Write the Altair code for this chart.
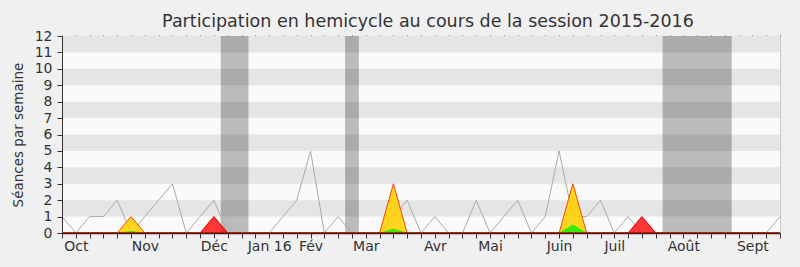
import altair as alt
import pandas as pd

# Weekly attendance, session 2015-2016 (week index 0..52)
weeks = list(range(53))
seances = [1, 0, 1, 1, 2, 0, 1, 2, 3, 0,
           1, 2, 0, 0, 0, 0, 1, 2, 5, 0,
           1, 0, 0, 0, 1, 2, 0, 1, 0, 0,
           2, 0, 1, 2, 0, 1, 5, 1, 1, 2,
           0, 1, 0, 0, 0, 0, 0, 0, 0, 0,
           0, 0, 1]
presences = [0, 0, 0, 0, 0, 1, 0, 0, 0, 0,
             0, 0, 0, 0, 0, 0, 0, 0, 0, 0,
             0, 0, 0, 0, 3, 0, 0, 0, 0, 0,
             0, 0, 0, 0, 0, 0, 0, 3, 0, 0,
             0, 0, 0, 0, 0, 0, 0, 0, 0, 0,
             0, 0, 0]
interventions = [0, 0, 0, 0, 0, 0.1, 0, 0, 0, 0,
                 0, 0, 0, 0, 0, 0, 0, 0, 0, 0,
                 0, 0, 0, 0, 0.25, 0, 0, 0, 0, 0,
                 0, 0, 0, 0, 0, 0, 0, 0.5, 0, 0,
                 0, 0, 0, 0, 0, 0, 0, 0, 0, 0,
                 0, 0, 0]
absences = [0, 0, 0, 0, 0, 0, 0, 0, 0, 0,
            0, 1, 0, 0, 0, 0, 0, 0, 0, 0,
            0, 0, 0, 0, 0, 0, 0, 0, 0, 0,
            0, 0, 0, 0, 0, 0, 0, 0, 0, 0,
            0, 0, 1, 0, 0, 0, 0, 0, 0, 0,
            0, 0, 0]

# Parliamentary recess (first and last week of each break)
vac_first = [12, 21, 44]
vac_last = [13, 21, 48]

# Month labels and the week they sit on
month_weeks = [1, 6, 11, 15, 18, 22, 27, 31, 36, 40, 45, 50]
month_names = ["Oct", "Nov", "Déc", "Jan 16", "Fév", "Mar", "Avr", "Mai",
               "Juin", "Juil", "Août", "Sept"]

# Alternating horizontal stripes
stripe_lo = [1, 3, 5, 7, 9, 11]
stripe_hi = [2, 4, 6, 8, 10, 12]

FONT = "DejaVu Sans"
TXT = "#333333"

df = pd.DataFrame({"week": weeks, "seances": seances, "presences": presences,
                   "interventions": interventions, "absences": absences})
vac = pd.DataFrame({"first": vac_first, "last": vac_last})
stripes = pd.DataFrame({"lo": stripe_lo, "hi": stripe_hi})

label_expr = ""
for w, n in zip(month_weeks, month_names):
    label_expr += f"datum.value == {w} ? '{n}' : "
label_expr += "''"

xscale = alt.Scale(domain=[0, 52], nice=False, zero=False)
yscale = alt.Scale(domain=[0, 12], nice=False)

stripe_layer = alt.Chart(stripes).mark_rect(color="#e5e5e5").encode(
    y=alt.Y("lo:Q", scale=yscale,
            axis=alt.Axis(values=list(range(13)), tickSize=5, labelPadding=5,
                          labelFont=FONT, labelFontSize=14, labelColor=TXT,
                          tickColor=TXT, domainColor=TXT, grid=False,
                          title="Séances par semaine", titleFont=FONT,
                          titleFontSize=13.5, titleFontWeight="normal",
                          titleColor=TXT, titleAngle=-90, titleX=-44,
                          titleY=98.5, titleAlign="center",
                          titleBaseline="middle", zindex=1)),
    y2="hi:Q",
)

vac_layer = alt.Chart(vac).transform_calculate(
    x0="datum.first - 0.5", x1="datum.last + 0.5"
).mark_rect(color="#000000", opacity=0.25).encode(
    x=alt.X("x0:Q", scale=xscale, axis=None),
    x2="x1:Q",
)

line_layer = alt.Chart(df).mark_line(color="#aaaaaa", strokeWidth=1).encode(
    x=alt.X("week:Q", scale=xscale,
            axis=alt.Axis(orient="top", values=weeks, tickSize=1,
                          tickColor=TXT, labels=False, domain=False,
                          grid=False, title=None)),
    y=alt.Y("seances:Q", scale=yscale,
            axis=alt.Axis(orient="right", ticks=False, labels=False,
                          domainColor="#c8c8c8", grid=False, title=None)),
)

yellow_layer = alt.Chart(df).mark_area(
    fill="#ffcf00", fillOpacity=0.88, stroke="#ff4400", strokeWidth=1
).encode(
    x=alt.X("week:Q", scale=xscale,
            axis=alt.Axis(values=weeks, tickSize=5, tickColor=TXT,
                          labelExpr=label_expr, labelFont=FONT,
                          labelFontSize=14, labelColor=TXT, labelPadding=1,
                          labelOverlap=False, labelFlush=False,
                          labelBound=False, domainColor="#4a1c1c",
                          domainWidth=1.5, grid=False, title=None,
                          zindex=1)),
    y=alt.Y("presences:Q", scale=yscale, axis=None),
)

green_layer = alt.Chart(df).mark_area(
    fill="#22ee00", fillOpacity=0.9, stroke="#22dd00", strokeWidth=0.5
).encode(
    x=alt.X("week:Q", scale=xscale, axis=None),
    y=alt.Y("interventions:Q", scale=yscale, axis=None),
)

red_layer = alt.Chart(df).mark_area(
    fill="#ff0000", fillOpacity=0.78, stroke="#e00000", strokeWidth=1
).encode(
    x=alt.X("week:Q", scale=xscale, axis=None),
    y=alt.Y("absences:Q", scale=yscale, axis=None),
)

chart = alt.layer(
    stripe_layer, vac_layer, line_layer, yellow_layer, green_layer, red_layer
).resolve_axis(x="independent", y="independent").properties(
    width=718, height=197,
    autosize=alt.AutoSizeParams(type="none"),
    padding={"left": 62, "top": 36, "right": 20, "bottom": 34},
    title=alt.TitleParams(
        "Participation en hemicycle au cours de la session 2015-2016",
        font=FONT, fontSize=17.5, fontWeight="normal", color=TXT,
        anchor="middle", frame="group", baseline="alphabetic", offset=-15,
        dx=7,
    ),
).configure(background="#f0f0f0").configure_view(stroke=None, fill="#fafafa")

chart.save("out.html", embed_options={"renderer": "svg", "actions": False})
